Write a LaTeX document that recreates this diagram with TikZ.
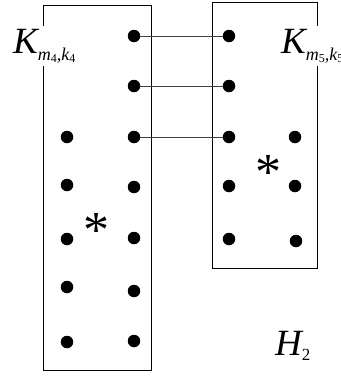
\documentclass[tikz,border=0pt]{standalone}
\usepackage{fontspec}
\setmainfont{Liberation Serif}
\usepackage{xcolor}
\usetikzlibrary{positioning, calc}

% label K_{m,k} with hand-made subscripts
\newcommand{\Kname}[2]{{\fontsize{37}{37}\selectfont\itshape K}%
  \raisebox{-7pt}{\fontsize{18}{18}\selectfont\itshape m\raisebox{-2.5pt}{\fontsize{12}{12}\selectfont\upshape #1},k\raisebox{-2.5pt}{\fontsize{12}{12}\selectfont\upshape #2}}}

\begin{document}
\begin{tikzpicture}[
    x=1pt, y=-1pt,
    vtx/.style={circle, fill=black, inner sep=0pt, minimum size=12.5pt},
    part/.style={draw=black, line width=1pt},
    link/.style={draw=black!75, line width=0.9pt},
    tag/.style={fill=white, inner xsep=1pt, inner ysep=3pt, anchor=base west},
    star/.style={font=\fontsize{52}{52}\selectfont, inner sep=0pt}
]
  \useasboundingbox (0,0) rectangle (341,376);

  % the two parts
  \draw[part] (43,5) rectangle (151,370);
  \draw[part] (212,2) rectangle (317,268);

  % left part, left column
  \node[vtx] (a1) at (67,137) {};
  \node[vtx] (a2) at (67,185) {};
  \node[vtx] (a3) at (67,239) {};
  \node[vtx] (a4) at (67,287) {};
  \node[vtx] (a5) at (67,342) {};
  % left part, right column
  \node[vtx] (b1) at (134,36) {};
  \node[vtx] (b2) at (134,86) {};
  \node[vtx] (b3) at (134,137) {};
  \node[vtx] (b4) at (134,187) {};
  \node[vtx] (b5) at (134,238) {};
  \node[vtx] (b6) at (134,291) {};
  \node[vtx] (b7) at (134,341) {};

  % right part
  \node[vtx] (c1) at (229,36) {};
  \node[vtx] (c2) at (229,86) {};
  \node[vtx] (c3) at (229,137) {};
  \node[vtx] (c4) at (229,186) {};
  \node[vtx] (c5) at (229,239) {};
  \node[vtx] (d1) at (295,137) {};
  \node[vtx] (d2) at (295,186) {};
  \node[vtx] (d3) at (296,241) {};

  \node[star] (s1) at (97,230) {*};
  \node[star] (s2) at (268,172) {*};

  % edges between the parts
  \draw[link] (b1) -- (c1);
  \draw[link] (b2) -- (c2);
  \draw[link] (b3) -- (c3);

  % labels
  \node[tag] (k4) at (12,53) {\Kname{4}{4}};
  \node[tag] (k5) at (280,53) {\Kname{5}{5}};
  \node[anchor=base west, inner sep=0pt] (h2) at (275,355)
    {{\fontsize{37}{37}\selectfont\itshape H}\raisebox{-5pt}{\fontsize{17}{17}\selectfont 2}};
\end{tikzpicture}
\end{document}
